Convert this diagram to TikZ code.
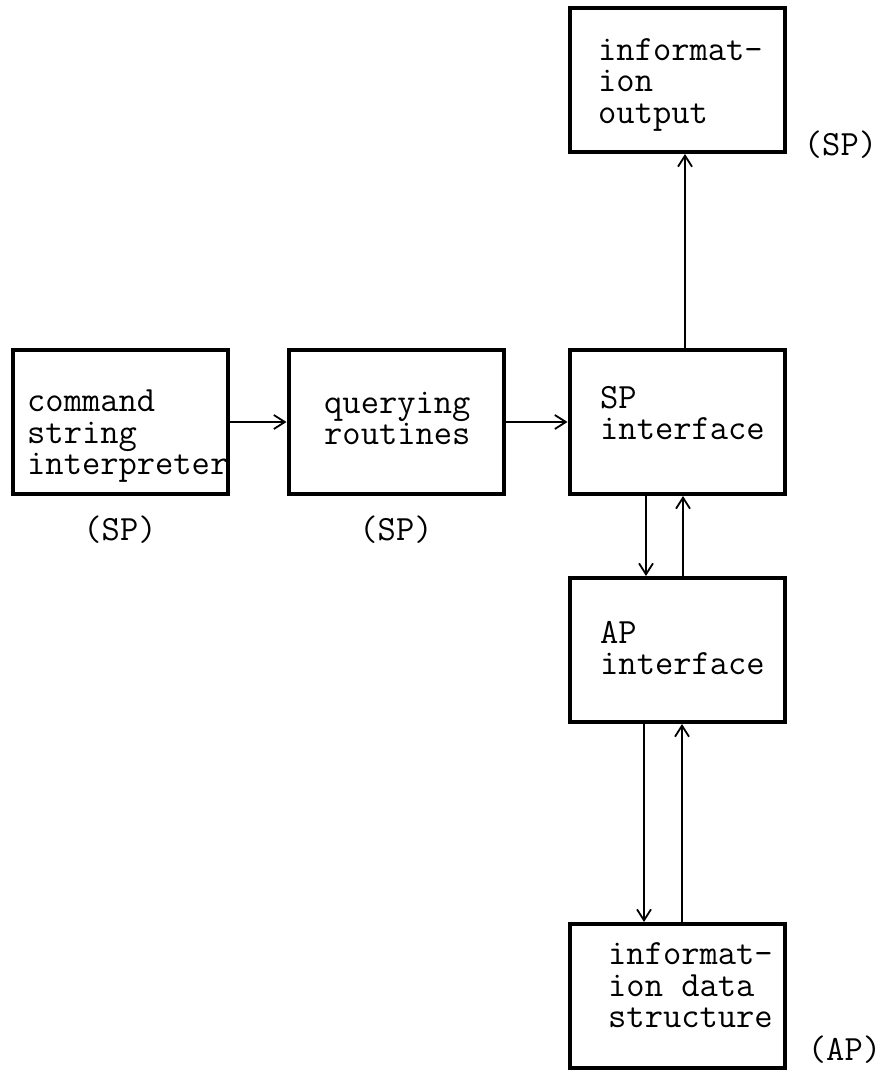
\documentclass[tikz,border=0pt]{standalone}
\usepackage{fontspec}
\usetikzlibrary{positioning,arrows.meta}

\tikzset{
  blk/.style={draw, line width=4pt, minimum width=215pt, minimum height=144pt, inner sep=0pt},
  txt/.style={anchor=north west, inner sep=0pt, align=left, font=\fontsize{35.5pt}{31.5pt}\ttfamily},
  tag/.style={inner sep=0pt, font=\fontsize{35.5pt}{31.5pt}\ttfamily},
  flow/.style={->, line width=1.8pt}
}

\begin{document}
\begin{tikzpicture}[x=1pt,y=1pt,>={Straight Barb[length=11pt,width=14pt]},node distance=2cm,on grid]
  \useasboundingbox (0,0) rectangle (885,-1078);
  \node[blk] (cmd)   at (120,-422)            {};
  \node[blk] (query) [right=276pt of cmd]   {};
  \node[blk] (spif)  [right=281pt of query] {};
  \node[blk] (out)   [above=342pt of spif]  {};
  \node[blk] (apif)  [below=228pt of spif]  {};
  \node[blk] (data)  [below=346pt of apif]  {};
  % texts in the boxes
  \node[txt] (cmdtxt)   at ([shift={(16.5,-42)}]cmd.north west)   {command\\string\\interpreter};
  \node[txt] (querytxt) at ([shift={(37.5,-43.5)}]query.north west) {querying\\routines};
  \node[txt] (spiftxt)  at ([shift={(32.5,-38)}]spif.north west)    {SP\\interface};
  \node[txt] (apiftxt)  at ([shift={(32.5,-45)}]apif.north west)    {AP\\interface};
  \node[txt] (outtxt)   at ([shift={(30.5,-32)}]out.north west)     {informat-\\ion\\output};
  \node[txt] (datatxt)  at ([shift={(40.5,-20.5)}]data.north west)  {informat-\\ion data\\structure};
  % processor tags
  \node[tag] (cmdtag)   [below=108pt of cmd]   {(SP)};
  \node[tag] (querytag) [below=108pt of query] {(SP)};
  \node[tag] (outtag)   at ([shift={(54,9)}]out.south east)   {(SP)};
  \node[tag] (datatag)  at ([shift={(58,20)}]data.south east) {(AP)};
  % connections
  \draw[flow] (cmd) -- (query);
  \draw[flow] (query) -- (spif);
  \draw[flow] ([xshift=8pt]spif.north) -- ([xshift=8pt]out.south);
  \draw[flow] ([xshift=-31pt]spif.south) -- ([xshift=-31pt]apif.north);
  \draw[flow] ([xshift=6pt]apif.north) -- ([xshift=6pt]spif.south);
  \draw[flow] ([xshift=-33pt]apif.south) -- ([xshift=-33pt]data.north);
  \draw[flow] ([xshift=5pt]data.north) -- ([xshift=5pt]apif.south);
\end{tikzpicture}
\end{document}
